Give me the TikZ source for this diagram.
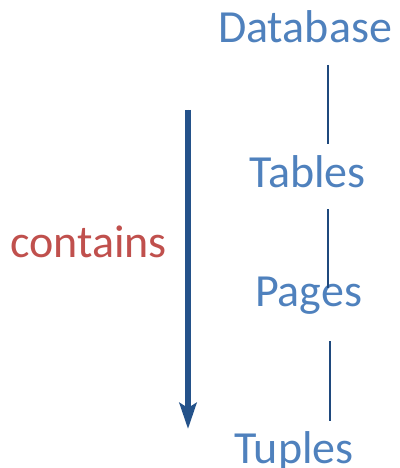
\documentclass[tikz,border=0pt]{standalone}
\usepackage{fontspec}
\setmainfont{Carlito}
\usepackage{tikz}
\usetikzlibrary{arrows.meta,positioning}
\definecolor{levelblue}{HTML}{4F81BD}
\definecolor{linkblue}{HTML}{1F497D}
\definecolor{arrowblue}{HTML}{24528A}
\definecolor{wordred}{HTML}{C0504D}
\tikzstyle{level} = [text=levelblue, font=\fontsize{46}{50}\selectfont, inner sep=0pt, anchor=base]
\tikzstyle{link} = [draw=linkblue, line width=1.8pt]

\begin{document}
\begin{tikzpicture}[x=1pt,y=1pt]
\useasboundingbox (0,0) rectangle (399,-468);

% Level nodes
\node[level] (db) at (305,-43) {Database};
\node[level] (tables) at (307.5,-187) {Tables};
\node[level] (pages) at (308.5,-306) {Pages};
\node[level] (tuples) at (294,-463) {Tuples};

% Line ends
\coordinate (l1a) at (328,-65);
\coordinate (l1b) at (328,-144);
\coordinate (l2a) at (328,-209);
\coordinate (l2b) at (328,-288);
\coordinate (l3a) at (330,-341);
\coordinate (l3b) at (330,-421);

% Lines
\draw[link] (l1a) -- (l1b);
\draw[link] (l2a) -- (l2b);
\draw[link] (l3a) -- (l3b);

% Contains arrow
\coordinate (top) at (188,-110);
\coordinate (bottom) at (188,-429);
\draw[draw=arrowblue, fill=arrowblue, line width=5.5pt, -{Stealth[length=26pt,width=17pt,inset=5pt]}] (top) -- (bottom);
\node[level, text=wordred] (contains) at (88.5,-257) {contains};

\end{tikzpicture}
\end{document}
